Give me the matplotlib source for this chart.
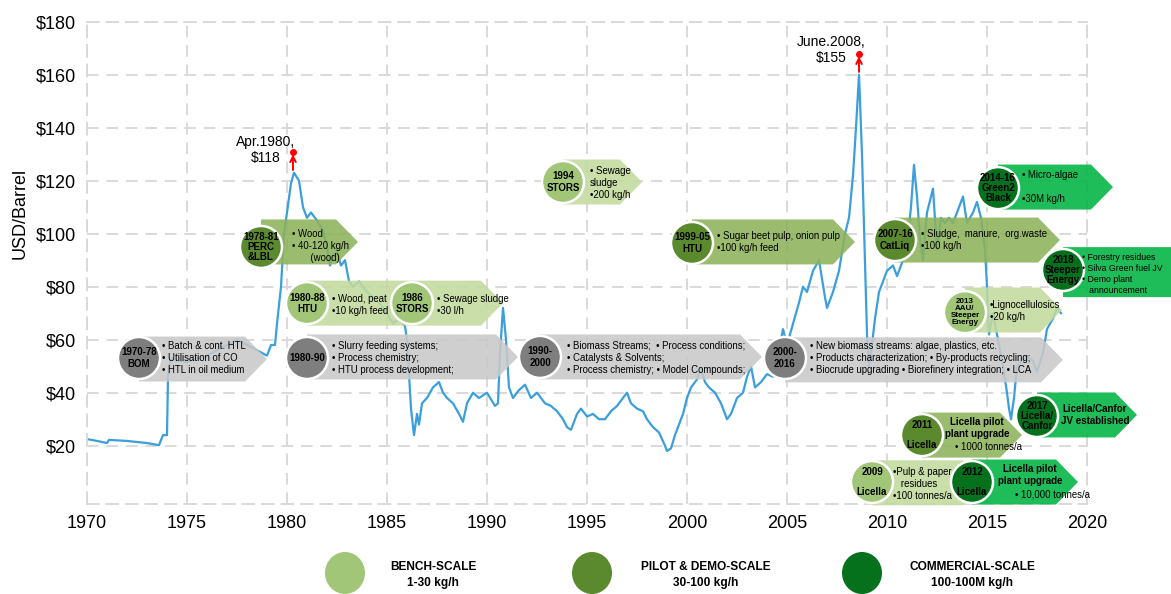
import numpy as np
import matplotlib.pyplot as plt
from matplotlib.patches import Polygon, Ellipse

plt.rcParams['font.family'] = ['Liberation Sans', 'DejaVu Sans']

# crude oil price (USD/barrel)
years = [1970.0, 1970.5, 1971.0, 1971.1, 1972.0, 1973.0, 1973.6, 1973.8, 1974.0, 1974.05,
         1974.2, 1974.6, 1975.0, 1975.5, 1976.0, 1976.5, 1977.0, 1977.5, 1978.0, 1978.5,
         1979.0, 1979.2, 1979.4, 1979.5, 1979.7, 1979.85, 1980.0, 1980.2, 1980.35, 1980.6,
         1980.8, 1981.0, 1981.2, 1981.5, 1981.8, 1982.0, 1982.15, 1982.3, 1982.5, 1982.7,
         1982.9, 1983.1, 1983.3, 1983.6, 1984.0, 1984.3, 1984.6, 1985.0, 1985.3, 1985.6,
         1985.9, 1986.0, 1986.2, 1986.35, 1986.5, 1986.6, 1986.75, 1987.0, 1987.3, 1987.6,
         1987.8, 1988.0, 1988.3, 1988.6, 1988.8, 1989.0, 1989.3, 1989.6, 1990.0, 1990.4,
         1990.55, 1990.65, 1990.8, 1990.95, 1991.1, 1991.3, 1991.6, 1991.9, 1992.2, 1992.5,
         1992.9, 1993.2, 1993.5, 1993.8, 1994.0, 1994.2, 1994.5, 1994.7, 1995.0, 1995.3,
         1995.6, 1995.9, 1996.2, 1996.5, 1996.8, 1997.0, 1997.2, 1997.5, 1997.8, 1998.0,
         1998.3, 1998.6, 1998.9, 1999.0, 1999.2, 1999.4, 1999.6, 1999.8, 2000.0, 2000.2,
         2000.5, 2000.7, 2000.9, 2001.1, 2001.4, 2001.7, 2002.0, 2002.2, 2002.5, 2002.8,
         2003.0, 2003.2, 2003.4, 2003.7, 2004.0, 2004.3, 2004.5, 2004.8, 2005.0, 2005.3,
         2005.6, 2005.8, 2006.0, 2006.3, 2006.6, 2006.9, 2007.0, 2007.3, 2007.6, 2007.9,
         2008.1, 2008.3, 2008.45, 2008.6, 2008.75, 2008.9, 2009.0, 2009.1, 2009.2, 2009.4,
         2009.6, 2009.8, 2010.0, 2010.3, 2010.5, 2010.8, 2011.0, 2011.2, 2011.35, 2011.5,
         2011.65, 2011.8, 2012.0, 2012.3, 2012.5, 2012.7, 2012.9, 2013.1, 2013.3, 2013.6,
         2013.8, 2014.0, 2014.3, 2014.5, 2014.7, 2014.9, 2015.0, 2015.1, 2015.3, 2015.6,
         2015.8, 2016.0, 2016.1, 2016.2, 2016.35, 2016.5, 2016.7, 2017.0, 2017.3, 2017.5,
         2017.8, 2018.0, 2018.3, 2018.5, 2018.7]
price = [22.5, 21.8, 21.0, 22.2, 21.8, 21.0, 20.2, 24.0, 24.0, 46,
         53, 52, 51.5, 53, 54, 56, 58, 60, 58, 56,
         54, 58, 58, 66, 80, 100, 108, 119, 123, 120,
         110, 106, 108, 105, 101, 95, 88, 92, 93, 88,
         90, 82, 80, 82, 78, 76, 74, 70, 66, 68,
         65, 60, 34, 24, 32, 28, 36, 38, 42, 44,
         40, 38, 36, 32, 29, 36, 40, 38, 40, 35,
         36, 55, 72, 60, 42, 38, 41, 43, 38, 40,
         36, 35, 33, 30, 27, 26, 32, 34, 31, 32,
         30, 30, 33, 35, 38, 40, 36, 34, 33, 30,
         27, 25, 20, 18, 19, 24, 28, 32, 38, 42,
         45, 49, 44, 42, 40, 36, 30, 32, 38, 40,
         46, 50, 42, 44, 47, 46, 52, 64, 58, 66,
         74, 80, 78, 86, 90, 76, 72, 78, 86, 100,
         106, 122, 140, 160, 130, 90, 62, 50, 55, 68,
         78, 82, 86, 88, 84, 90, 96, 110, 126, 114,
         98, 90, 108, 117, 94, 106, 104, 106, 104, 110,
         114, 104, 108, 112, 106, 94, 80, 62, 70, 58,
         50, 40, 34, 30, 38, 50, 52, 54, 52, 48,
         55, 64, 68, 72, 70]

year_ticks = list(range(1970, 2021, 5))
usd_ticks = list(range(20, 181, 20))
peaks = [(1980.3, 123, 'Apr.1980,\n$118', 1978.95, 131.6),
         (2008.6, 160, 'June.2008,\n$155', 2007.2, 169.3)]

colors = {'grey': ('#c9c9c9', '#7e7e7e'),
          'bench': ('#c3da9f', '#a2c677'),
          'pilot': ('#8db25b', '#5b892d'),
          'comm': ('#00b442', '#05711c')}
legend_items = [('bench', 'BENCH-SCALE\n1-30 kg/h', 345, 433),
                ('pilot', 'PILOT & DEMO-SCALE\n30-100 kg/h', 592, 706),
                ('comm', 'COMMERCIAL-SCALE\n100-100M kg/h', 862, 972)]

# milestone arrows: kind, arrow y, tip x, circles, texts
boxes = [
    ('grey', 52.7, 1979.0, [(1972.6, 53.1, '1970-78\nBOM')],
     [(1973.75, 53.1, '• Batch & cont. HTL\n• Utilisation of CO\n• HTL in oil medium', 'left', 'normal')]),
    ('grey', 53.5, 1991.55, [(1981.0, 53.1, '1980-90')],
     [(1982.25, 53.1, '• Slurry feeding systems;\n• Process chemistry;\n• HTU process development;', 'left', 'normal')]),
    ('grey', 53.5, 2003.75, [(1992.65, 53.5, '1990-\n2000')],
     [(1994.0, 53.1, '• Biomass Streams;  • Process conditions;\n• Catalysts & Solvents;\n• Process chemistry; • Model Compounds;', 'left', 'normal')]),
    ('grey', 52.4, 2018.8, [(2004.9, 53.1, '2000-\n2016')],
     [(2006.15, 53.1, '• New biomass streams: algae, plastics, etc.\n• Products characterization; • By-products recycling;\n• Biocrude upgrading • Biorefinery integration; • LCA', 'left', 'normal')]),
    ('pilot', 96.9, 1983.55, [(1978.7, 95.0, '1978-81\nPERC\n&LBL')],
     [(1980.25, 95.4, '• Wood\n• 40-120 kg/h\n       (wood)', 'left', 'normal')]),
    ('bench', 73.8, 1990.8, [(1981.0, 73.8, '1980-88\nHTU'), (1986.25, 73.8, '1986\nSTORS')],
     [(1982.25, 73.1, '• Wood, peat\n•10 kg/h feed', 'left', 'normal'),
      (1987.5, 73.1, '• Sewage sludge\n•30 l/h', 'left', 'normal')]),
    ('bench', 119.5, 1997.75, [(1993.8, 119.5, '1994\nSTORS')],
     [(1995.15, 119.1, '• Sewage\nsludge\n•200 kg/h', 'left', 'normal')]),
    ('pilot', 96.9, 2008.4, [(2000.25, 96.5, '1999-05\nHTU')],
     [(2001.5, 96.9, '• Sugar beet pulp, onion pulp\n•100 kg/h feed', 'left', 'normal')]),
    ('pilot', 97.6, 2018.65, [(2010.4, 97.6, '2007-16\nCatLiq')],
     [(2011.7, 97.6, '• Sludge,  manure,  org.waste\n•100 kg/h', 'left', 'normal')]),
    ('comm', 117.6, 2021.3, [(2015.55, 117.2, '2014-16\nGreen2\nBlack')],
     [(2016.75, 117.6, '• Micro-algae\n\n•30M kg/h', 'left', 'normal')]),
    ('bench', 71.2, 2018.75, [(2013.9, 70.4, '2013\nAAU/\nSteeper\nEnergy')],
     [(2015.15, 70.8, '•Lignocellulosics\n•20 kg/h', 'left', 'normal')]),
    ('comm', 85.5, 2025.4, [(2018.8, 86.3, '2018\nSteeper\nEnergy')],
     [(2019.75, 84.8, '• Forestry residues\n• Silva Green fuel JV\n• Demo plant\n   announcement', 'left', 'normal')]),
    ('pilot', 24.0, 2016.75, [(2011.75, 24.0, '2011\n\nLicella')],
     [(2014.5, 26.7, 'Licella pilot\nplant upgrade', 'center', 'bold'),
      (2013.4, 19.5, '• 1000 tonnes/a', 'left', 'normal')]),
    ('comm', 31.6, 2022.5, [(2017.5, 31.2, '2017\nLicella/\nCanfor')],
     [(2020.4, 31.6, 'Licella/Canfor\nJV established', 'center', 'bold')]),
    ('bench', 6.0, 2014.9, [(2009.25, 6.3, '2009\n\nLicella')],
     [(2010.3, 5.6, '•Pulp & paper\n   residues\n•100 tonnes/a', 'left', 'normal')]),
    ('comm', 6.3, 2019.55, [(2014.25, 6.3, '2012\n\nLicella')],
     [(2017.15, 8.9, 'Licella pilot\nplant upgrade', 'center', 'bold'),
      (2016.4, 1.7, '• 10,000 tonnes/a', 'left', 'normal')]),
]

W, H = 1171, 594
fig = plt.figure(figsize=(W / 100, H / 100), dpi=100)
ax = fig.add_axes([87 / W, 90 / H, 1000 / W, 482.3 / H])

ax.plot(years, price, color='#3a9fdc', lw=1.6, zorder=2)
ax.set_xlim(1970, 2020)
ax.set_ylim(-2, 180)
ax.set_xticks(year_ticks)
ax.set_yticks(usd_ticks)
ax.set_yticklabels(['$%d' % v for v in usd_ticks])
ax.tick_params(length=0, labelsize=13, pad=8)
ax.grid(True, color='#d9d9d9', lw=1.4, ls=(0, (6, 4)))
for s in ax.spines.values():
    s.set_color('#d9d9d9')
    s.set_linewidth(1.4)
    s.set_linestyle((0, (6, 4)))
fig.text(20 / W, 1 - 213 / H, 'USD/Barrel', rotation=90, fontsize=13,
         ha='center', va='center')

# red peak markers
for px_, py_, lab, tx, ty in peaks:
    ax.annotate('', xy=(px_, py_ + 8), xytext=(px_, py_),
                arrowprops=dict(arrowstyle='->', color='red', lw=1.4))
    ax.plot(px_, py_ + 8, 'o', color='red', ms=4, zorder=5)
    ax.text(tx, ty, lab, fontsize=10, ha='center', va='center')

# pixel sizes -> data units
sx = 1000 / 50.0
sy = 482.3 / 182.0
r = 21
h = 22.5 / sy
tipl = 22 / sx

z = 3
for kind, yc, tip, circles, texts in boxes:
    fc, cc = colors[kind]
    x0 = circles[0][0]
    edge = tip > 2024   # box running off the right edge of the figure
    hh = h * (25 / 22.5) if edge else h
    poly = Polygon([(x0, yc - hh), (tip - tipl, yc - hh), (tip, yc),
                    (tip - tipl, yc + hh), (x0, yc + hh)],
                   closed=True, fc=fc, ec='none', alpha=0.88, zorder=z, clip_on=False)
    ax.add_patch(poly)
    for cx, cy, lab in circles:
        ax.add_patch(Ellipse((cx, cy), 2 * r / sx, 2 * r / sy, fc=cc, ec='white',
                             lw=1.8, zorder=z + 0.01, clip_on=False))
        nl = lab.count('\n')
        ax.text(cx, cy, lab, fontsize=5.8 if nl >= 3 else 7, fontweight='bold',
                ha='center', va='center', linespacing=1.0 if nl >= 2 else 1.15,
                zorder=z + 0.02, clip_on=False)
    for tx, ty, lab, ha, fw in texts:
        fs = 7 if fw == 'bold' else (6.3 if edge else 6.9)
        ax.text(tx, ty, lab, fontsize=fs, fontweight=fw,
                ha=ha, va='center', linespacing=1.25, zorder=z + 0.02, clip_on=False)
    z += 0.1

# scale legend
for kind, lab, cxp, txp in legend_items:
    fig.add_artist(Ellipse((cxp / W, 1 - 573 / H), 40 / W, 42 / H,
                           transform=fig.transFigure, fc=colors[kind][1], ec='none'))
    fig.text(txp / W, 1 - 575 / H, lab, fontsize=8.6, fontweight='bold',
             ha='center', va='center', linespacing=1.4)

fig.savefig('out.png', dpi=100)
